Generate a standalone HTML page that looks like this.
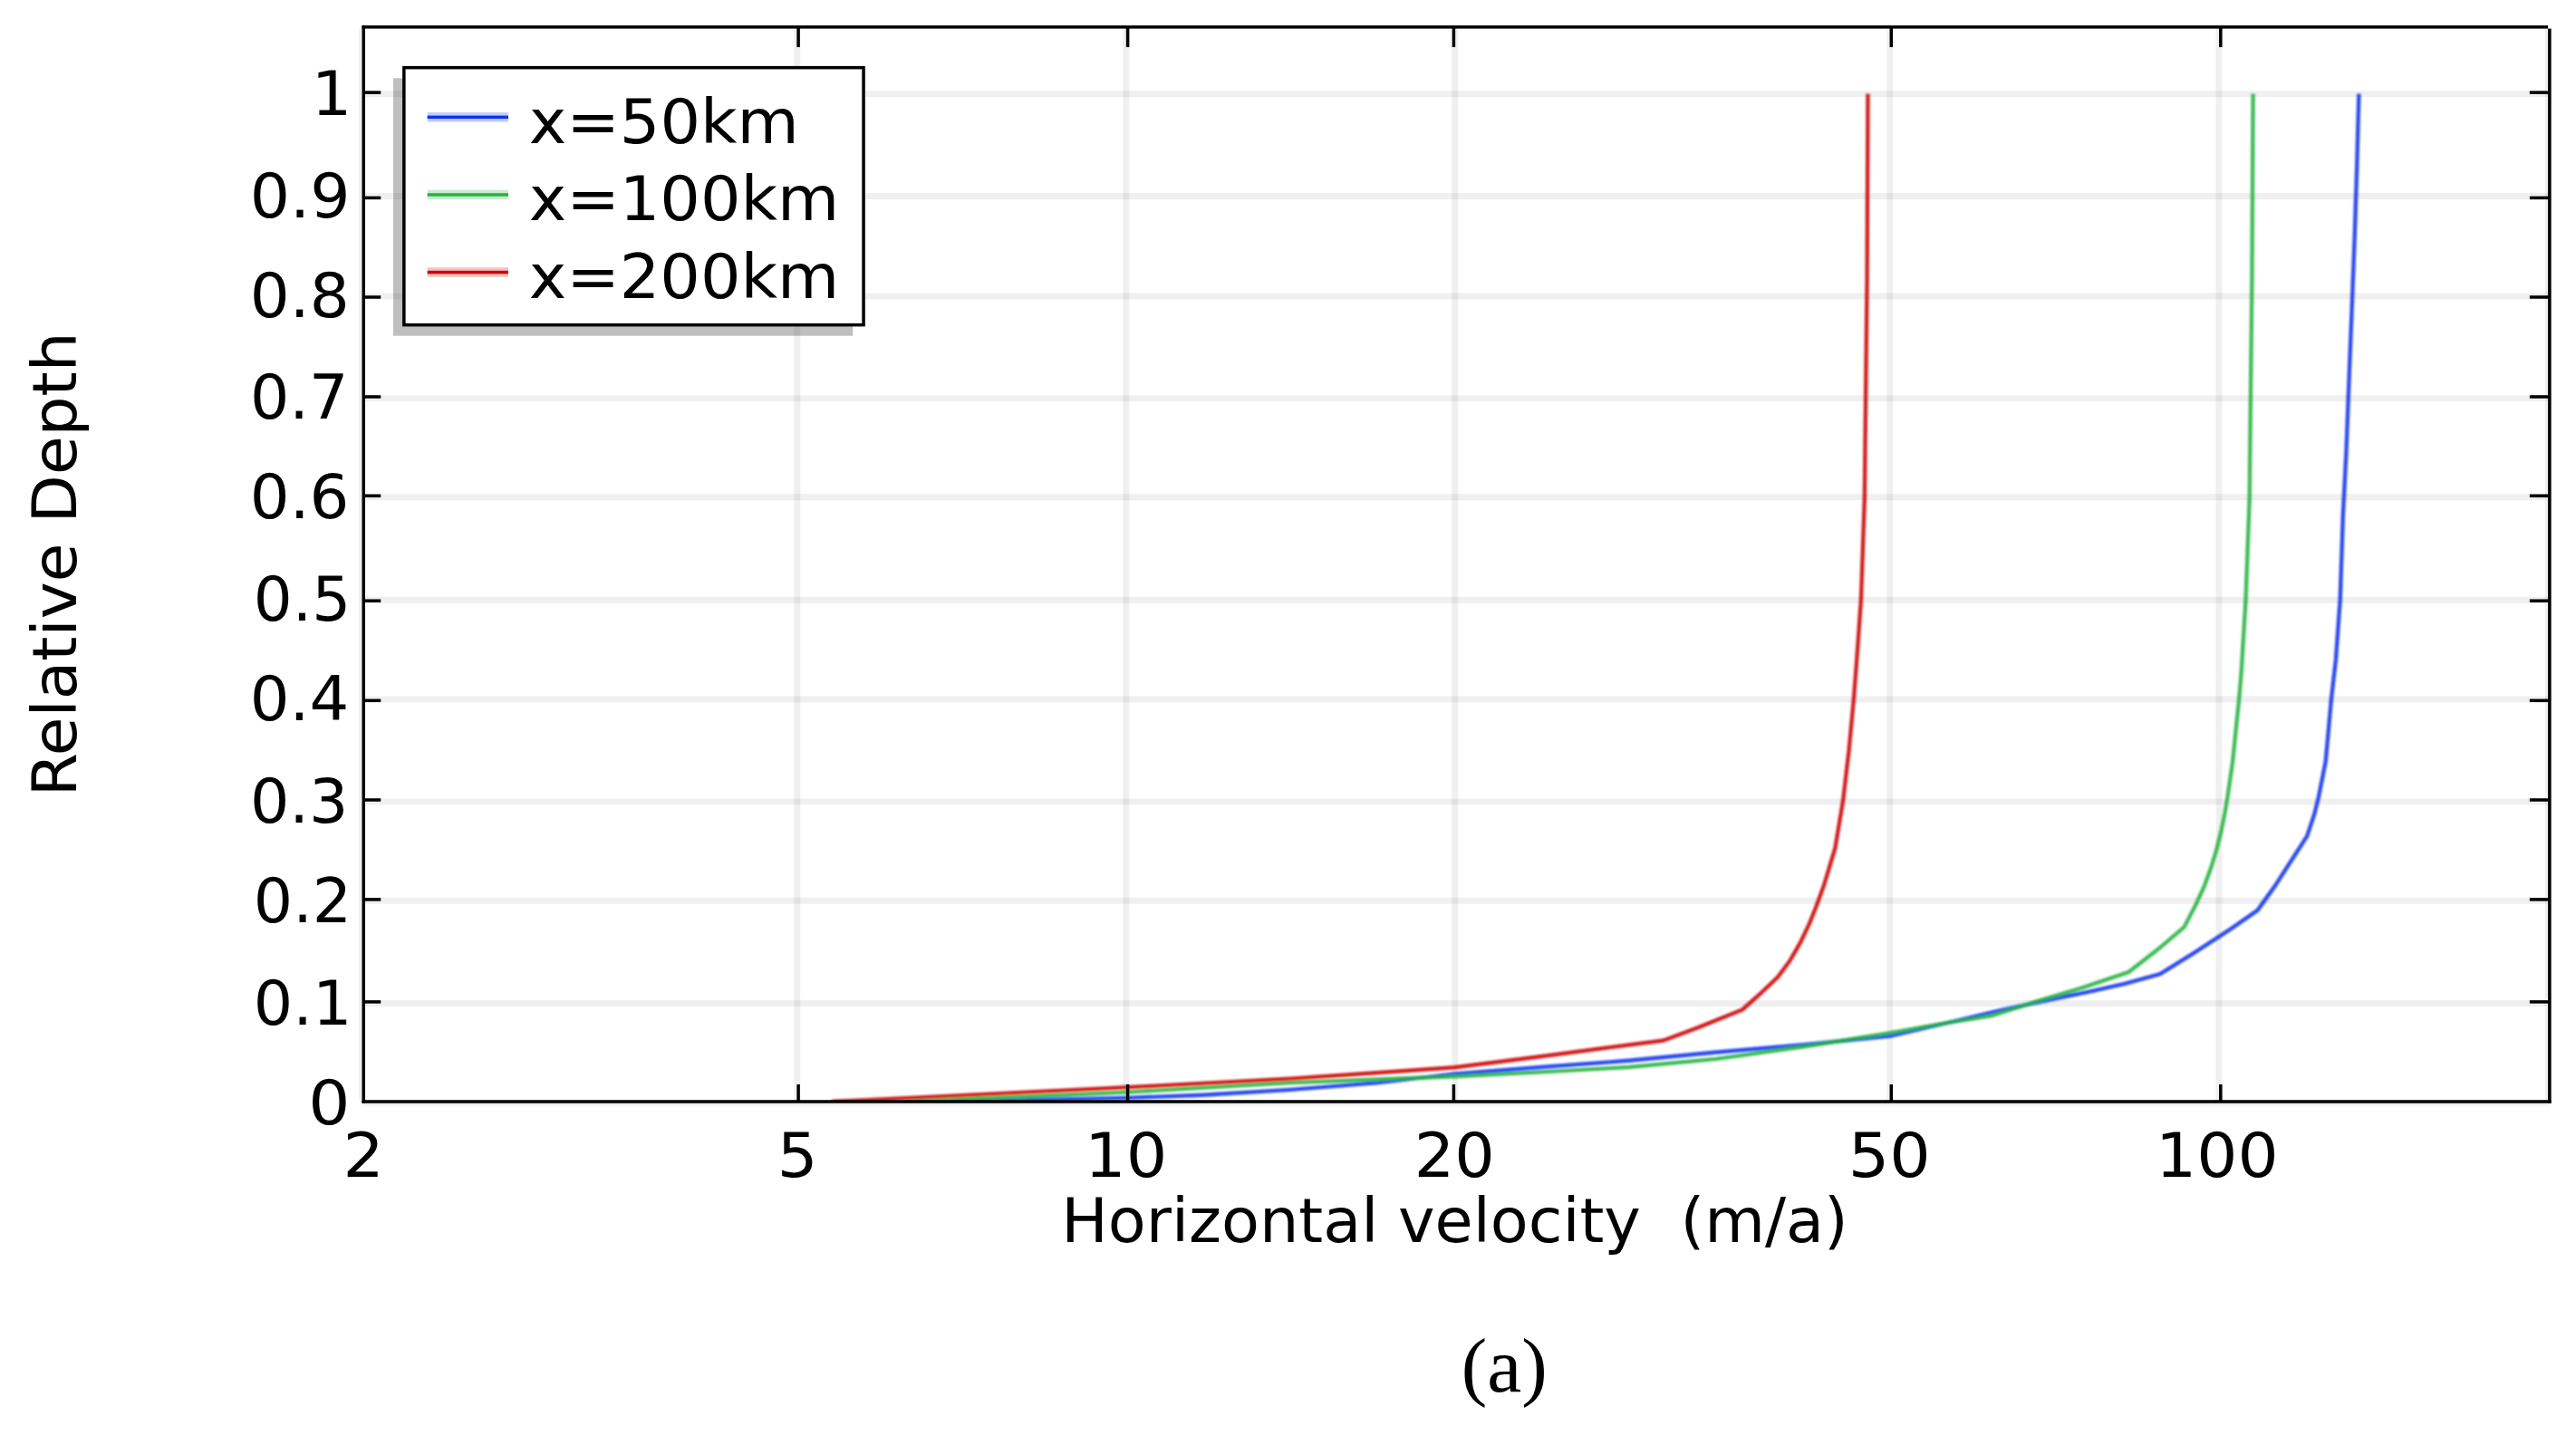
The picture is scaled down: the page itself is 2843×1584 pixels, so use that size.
<!DOCTYPE html>
<html lang="en">
<head>
<meta charset="utf-8">
<title>Horizontal velocity profiles</title>
<style>
html,body{margin:0;padding:0;background:#fff;}
body{width:2843px;height:1584px;overflow:hidden;}
svg{display:block;filter:blur(0.6px);}
text{font-family:'DejaVu Sans','Liberation Sans',sans-serif;font-size:67.5px;fill:#000;white-space:pre;}
.cap{font-family:'Liberation Serif','DejaVu Serif',serif;font-size:85.5px;}
.curve{fill:none;stroke-linejoin:round;stroke-linecap:butt;}
</style>
</head>
<body>
<svg width="2843" height="1584" viewBox="0 0 2843 1584">
<rect x="0" y="0" width="2843" height="1584" fill="#ffffff"/>

<g id="grid" fill="#000" fill-opacity="0.06">
<rect x="401.25" y="100.20" width="2412.60" height="7"/>
<rect x="401.25" y="213.00" width="2412.60" height="7"/>
<rect x="401.25" y="323.50" width="2412.60" height="7"/>
<rect x="401.25" y="436.30" width="2412.60" height="7"/>
<rect x="401.25" y="545.20" width="2412.60" height="7"/>
<rect x="401.25" y="658.80" width="2412.60" height="7"/>
<rect x="401.25" y="768.40" width="2412.60" height="7"/>
<rect x="401.25" y="881.30" width="2412.60" height="7"/>
<rect x="401.25" y="990.80" width="2412.60" height="7"/>
<rect x="401.25" y="1104.10" width="2412.60" height="7"/>
<rect x="401.25" y="1213.80" width="2412.60" height="7"/>
<rect x="396.00" y="31.60" width="7" height="1182.65"/>
<rect x="876.20" y="31.60" width="7" height="1182.65"/>
<rect x="1239.30" y="31.60" width="7" height="1182.65"/>
<rect x="1602.30" y="31.60" width="7" height="1182.65"/>
<rect x="2082.30" y="31.60" width="7" height="1182.65"/>
<rect x="2445.50" y="31.60" width="7" height="1182.65"/>
<rect x="2809.00" y="31.60" width="7" height="1182.65"/>
</g>
<clipPath id="plotclip"><rect x="401.25" y="29.85" width="2412.6" height="1186.15"/></clipPath>
<filter id="soft" x="-2%" y="-2%" width="104%" height="104%"><feGaussianBlur stdDeviation="1.1"/></filter>
<g id="curves" clip-path="url(#plotclip)"><g filter="url(#soft)">
<polyline class="curve" points="1050.0,1216.0 1243.0,1211.9 1327.0,1208.7 1424.0,1202.9 1521.0,1195.1 1605.0,1185.4 1700.0,1178.0 1797.0,1170.8 1894.0,1161.5 1991.0,1153.3 2086.0,1143.6 2150.0,1128.8 2208.5,1115.2 2267.0,1102.5 2306.0,1094.7 2345.0,1085.9 2384.0,1075.2 2423.0,1050.8 2462.0,1025.4 2491.5,1004.9 2511.0,977.6 2528.6,950.3 2546.2,922.9 2554.0,899.5 2558.9,880.0 2566.7,840.6 2573.0,771.0 2577.9,728.5 2582.7,662.0 2585.9,568.2 2589.4,500.0 2593.2,401.6 2595.7,339.5 2598.8,258.8 2601.2,184.0 2603.4,103.5" stroke="#0d33f0" stroke-width="4.4" stroke-opacity="0.88"/>
<polyline class="curve" points="1000.0,1216.0 1124.0,1210.7 1243.0,1205.6 1424.0,1195.1 1605.0,1188.3 1700.0,1183.4 1797.0,1178.0 1894.0,1168.9 1991.0,1155.3 2086.0,1140.1 2150.0,1128.8 2199.0,1121.0 2247.6,1105.4 2296.4,1090.8 2349.0,1073.2 2384.0,1045.9 2410.5,1023.4 2423.2,999.0 2433.0,977.6 2440.8,956.1 2446.6,936.6 2451.5,917.1 2455.4,897.6 2458.4,880.0 2464.1,840.6 2471.2,771.0 2473.7,741.3 2478.5,662.0 2482.7,549.0 2483.2,500.0 2485.4,308.0 2486.6,103.5" stroke="#26b340" stroke-width="4.4" stroke-opacity="0.88"/>
<polyline class="curve" points="918.0,1216.0 1015.0,1211.4 1243.0,1200.3 1424.0,1190.8 1605.0,1178.2 1700.0,1166.3 1768.0,1157.2 1836.0,1148.5 1875.0,1133.9 1923.0,1114.5 1942.6,1097.0 1962.0,1078.6 1975.6,1060.2 1987.3,1039.8 1997.0,1019.4 2004.7,1000.0 2013.5,975.7 2025.4,936.0 2034.1,883.7 2040.5,828.9 2046.0,770.6 2050.0,717.8 2054.0,661.0 2057.9,548.3 2058.4,500.0 2060.6,308.0 2061.5,103.5" stroke="#cf0505" stroke-width="4.4" stroke-opacity="0.88"/>
</g></g>
<g id="axes" fill="#000">
<rect x="399.50" y="28.10" width="2412.60" height="3.5"/>
<rect x="399.50" y="1214.25" width="2416.10" height="3.5"/>
<rect x="399.50" y="28.10" width="3.5" height="1189.65"/>
<rect x="2812.10" y="31.60" width="3.5" height="1186.15"/>
<rect x="401.25" y="100.35" width="19" height="3.5"/>
<rect x="2791.85" y="100.35" width="22" height="3.5"/>
<rect x="401.25" y="216.65" width="19" height="3.5"/>
<rect x="2791.85" y="216.65" width="22" height="3.5"/>
<rect x="401.25" y="326.25" width="19" height="3.5"/>
<rect x="2791.85" y="326.25" width="22" height="3.5"/>
<rect x="401.25" y="436.25" width="19" height="3.5"/>
<rect x="2791.85" y="436.25" width="22" height="3.5"/>
<rect x="401.25" y="545.55" width="19" height="3.5"/>
<rect x="2791.85" y="545.55" width="22" height="3.5"/>
<rect x="401.25" y="661.45" width="19" height="3.5"/>
<rect x="2791.85" y="661.45" width="22" height="3.5"/>
<rect x="401.25" y="771.55" width="19" height="3.5"/>
<rect x="2791.85" y="771.55" width="22" height="3.5"/>
<rect x="401.25" y="881.25" width="19" height="3.5"/>
<rect x="2791.85" y="881.25" width="22" height="3.5"/>
<rect x="401.25" y="991.15" width="19" height="3.5"/>
<rect x="2791.85" y="991.15" width="22" height="3.5"/>
<rect x="401.25" y="1104.15" width="19" height="3.5"/>
<rect x="2791.85" y="1104.15" width="22" height="3.5"/>
<rect x="879.35" y="1197.00" width="3.5" height="19"/>
<rect x="879.35" y="29.85" width="3.5" height="22.2"/>
<rect x="1242.85" y="1197.00" width="3.5" height="19"/>
<rect x="1242.85" y="29.85" width="3.5" height="22.2"/>
<rect x="1602.65" y="1197.00" width="3.5" height="19"/>
<rect x="1602.65" y="29.85" width="3.5" height="22.2"/>
<rect x="2085.55" y="1197.00" width="3.5" height="19"/>
<rect x="2085.55" y="29.85" width="3.5" height="22.2"/>
<rect x="2449.05" y="1197.00" width="3.5" height="19"/>
<rect x="2449.05" y="29.85" width="3.5" height="22.2"/>
</g>
<g id="ylabels">
<text id="y0" transform="translate(343.86 126.50) scale(1.0384 1)">1</text>
<text id="y1" transform="translate(275.82 240.20) scale(1.0314 1)">0.9</text>
<text id="y2" transform="translate(275.85 349.90) scale(1.0244 1)">0.8</text>
<text id="y3" transform="translate(275.89 462.30) scale(1.0104 1)">0.7</text>
<text id="y4" transform="translate(275.87 572.20) scale(1.0212 1)">0.6</text>
<text id="y5" transform="translate(279.85 685.30) scale(1.0001 1)">0.5</text>
<text id="y6" transform="translate(275.87 794.90) scale(1.0191 1)">0.4</text>
<text id="y7" transform="translate(275.91 908.00) scale(1.0112 1)">0.3</text>
<text id="y8" transform="translate(279.78 1017.60) scale(1.0105 1)">0.2</text>
<text id="y9" transform="translate(279.79 1130.80) scale(1.0125 1)">0.1</text>
<text id="y10" transform="translate(340.32 1240.60) scale(1.0757 1)">0</text>
</g>
<g id="xlabels">
<text id="x0" transform="translate(378.48 1299.20) scale(1.0549 1)">2</text>
<text id="x1" transform="translate(857.63 1299.20) scale(1.0428 1)">5</text>
<text id="x2" transform="translate(1197.01 1299.20) scale(1.0624 1)">10</text>
<text id="x3" transform="translate(1560.68 1299.20) scale(1.0359 1)">20</text>
<text id="x4" transform="translate(2039.76 1299.20) scale(1.0593 1)">50</text>
<text id="x5" transform="translate(2379.08 1299.20) scale(1.0519 1)">100</text>
</g>
<text id="xt" transform="translate(1171.25 1371.00) scale(1.0158 1)">Horizontal velocity  (m/a)</text>
<text id="yt" transform="translate(83.8 622.8) rotate(-90) scale(1.028 1)" text-anchor="middle">Relative Depth</text>
<g id="legend">
<rect x="434" y="86.3" width="507.2" height="284.4" fill="#000" fill-opacity="0.25"/>
<rect x="445.85" y="74.65" width="507.2" height="284" fill="#fff" stroke="#000" stroke-width="3.5"/>
<rect x="471.7" y="124.1" width="89.3" height="10.4" fill="#0d33f0" fill-opacity="0.25"/>
<rect x="471.7" y="127.6" width="89.3" height="3.5" fill="#0d33f0"/>
<text id="l0" transform="translate(583.70 157.50) scale(1.0381 1)">x=50km</text>
<rect x="471.7" y="209.7" width="89.3" height="10.4" fill="#26b340" fill-opacity="0.25"/>
<rect x="471.7" y="213.2" width="89.3" height="3.5" fill="#26b340"/>
<text id="l1" transform="translate(583.70 243.30) scale(1.0374 1)">x=100km</text>
<rect x="471.7" y="295.3" width="89.3" height="10.4" fill="#cf0505" fill-opacity="0.25"/>
<rect x="471.7" y="298.8" width="89.3" height="3.5" fill="#cf0505"/>
<text id="l2" transform="translate(583.70 328.90) scale(1.0374 1)">x=200km</text>
</g>
<text id="cap" class="cap" x="1660.3" y="1536" text-anchor="middle">(a)</text>
</svg>
</body>
</html>
